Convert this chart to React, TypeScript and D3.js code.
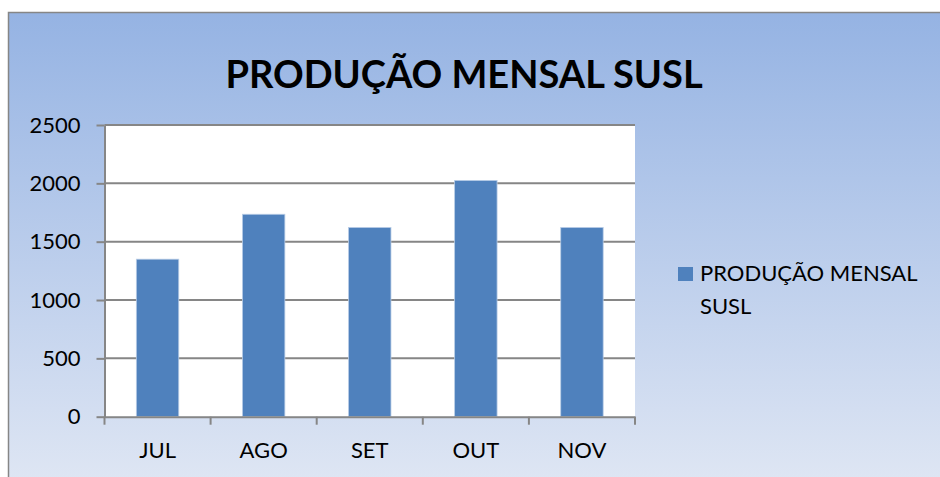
import * as d3 from 'd3'
import React, { useEffect, useRef } from 'react'

const months = ['JUL', 'AGO', 'SET', 'OUT', 'NOV']
const production = [1350, 1735, 1622, 2025, 1622]
const yTicks = [0, 500, 1000, 1500, 2000, 2500]
const seriesName = 'PRODUÇÃO MENSAL SUSL'
const legendLines = ['PRODUÇÃO MENSAL', 'SUSL']

const W = 940
const H = 477
const plot = { left: 104.5, right: 635, top: 125, bottom: 416.7 }
const font = 'Lato, "Open Sans", sans-serif'

const App = () => {
  const ref = useRef<SVGSVGElement>(null)

  useEffect(() => {
    if (!ref.current) return
    const svg = d3.select(ref.current)
    svg.selectAll('*').remove()

    const defs = svg.append('defs')
    const grad = defs
      .append('linearGradient')
      .attr('id', 'bg')
      .attr('x1', 0)
      .attr('y1', 0)
      .attr('x2', 0)
      .attr('y2', 1)
    grad.append('stop').attr('offset', '0%').attr('stop-color', '#95b3e3')
    grad.append('stop').attr('offset', '100%').attr('stop-color', '#e0e7f4')

    // chart frame (runs off the right and bottom edges)
    svg
      .append('rect')
      .attr('x', 8.5)
      .attr('y', 12.5)
      .attr('width', W)
      .attr('height', 480)
      .attr('fill', 'url(#bg)')
      .attr('stroke', '#868686')
      .attr('stroke-width', 1.5)

    svg
      .append('text')
      .attr('x', 464)
      .attr('y', 88)
      .attr('text-anchor', 'middle')
      .attr('font-family', font)
      .attr('font-weight', 'bold')
      .attr('font-size', 38)
      .attr('fill', '#000')
      .text(seriesName)

    const x = d3.scaleBand<string>().domain(months).range([plot.left, plot.right]).paddingInner(0).paddingOuter(0)
    const y = d3.scaleLinear().domain([0, 2500]).range([plot.bottom, plot.top])

    svg
      .append('rect')
      .attr('x', plot.left)
      .attr('y', plot.top)
      .attr('width', plot.right - plot.left)
      .attr('height', plot.bottom - plot.top)
      .attr('fill', '#fff')

    // gridlines
    svg
      .append('g')
      .selectAll('line')
      .data(yTicks.filter((t) => t > 0))
      .join('line')
      .attr('x1', plot.left)
      .attr('x2', plot.right)
      .attr('y1', (d) => y(d))
      .attr('y2', (d) => y(d))
      .attr('stroke', '#868686')
      .attr('stroke-width', 2)

    const barW = x.bandwidth() / 2.5
    svg
      .append('g')
      .selectAll('rect')
      .data(production)
      .join('rect')
      .attr('x', (_, i) => (x(months[i]) as number) + (x.bandwidth() - barW) / 2)
      .attr('y', (d) => y(d))
      .attr('width', barW)
      .attr('height', (d) => plot.bottom - y(d))
      .attr('fill', '#4f81bd')
      .attr('stroke', '#b9cde6')
      .attr('stroke-width', 0.8)

    // y axis
    const yAxis = svg.append('g').attr('transform', `translate(${plot.left},0)`)
    yAxis.call(
      d3
        .axisLeft(y)
        .tickValues(yTicks)
        .tickFormat(d3.format('d'))
        .tickSize(8)
        .tickPadding(16)
        .tickSizeOuter(0)
    )
    // x axis
    const xAxis = svg.append('g').attr('transform', `translate(0,${plot.bottom})`)
    xAxis.call(d3.axisBottom(x).tickSize(0).tickPadding(26))
    xAxis
      .selectAll('.cat-tick')
      .data([...months.map((m) => x(m) as number), plot.right])
      .join('line')
      .attr('class', 'cat-tick')
      .attr('x1', (d) => d)
      .attr('x2', (d) => d)
      .attr('y1', 0)
      .attr('y2', 8)
      .attr('stroke', '#868686')
      .attr('stroke-width', 2)

    for (const g of [yAxis, xAxis]) {
      g.select('.domain').attr('stroke', '#868686').attr('stroke-width', 2)
      g.selectAll('.tick line').attr('stroke', '#868686').attr('stroke-width', 2)
      g.selectAll('.tick text').attr('font-family', font).attr('font-size', 22).attr('fill', '#000')
    }
    xAxis.selectAll('.tick text').attr('dy', '0.71em')

    // legend
    const legend = svg.append('g')
    legend
      .append('rect')
      .attr('x', 678)
      .attr('y', 267)
      .attr('width', 15)
      .attr('height', 14)
      .attr('fill', '#4f81bd')
    legend
      .selectAll('text')
      .data(legendLines)
      .join('text')
      .attr('x', 700)
      .attr('y', (_, i) => 281 + i * 33)
      .attr('font-family', font)
      .attr('font-size', 22)
      .attr('fill', '#000')
      .text((d) => d)
  }, [])

  return (
    <svg
      ref={ref}
      width={W}
      height={H}
      style={{ position: 'absolute', left: 0, top: 0, display: 'block', background: '#fff' }}
    />
  )
}

export default App
